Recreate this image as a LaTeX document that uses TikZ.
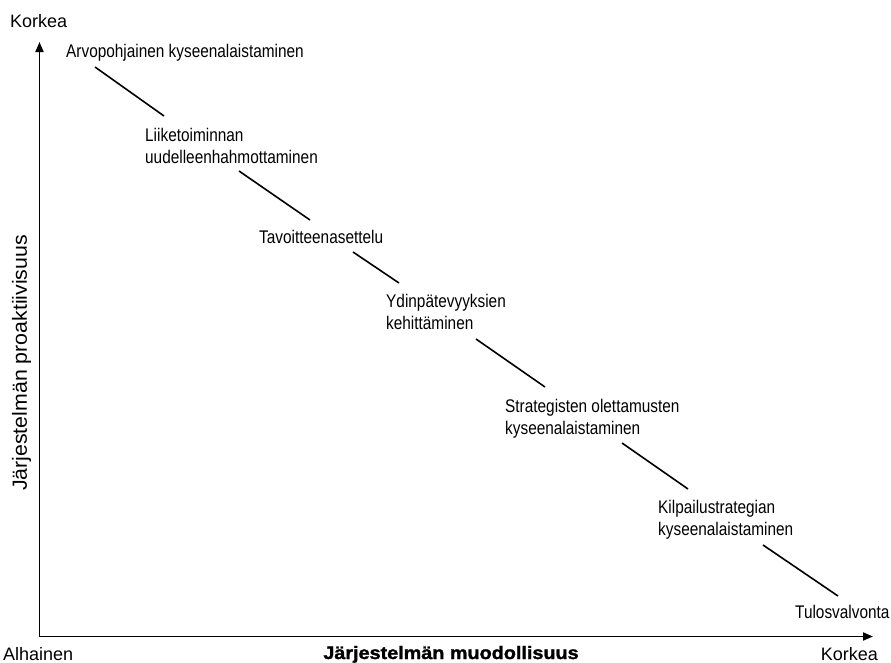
\documentclass[tikz,border=0pt]{standalone}
\usepackage{fontspec}
\setmainfont{Liberation Sans}
\newfontfamily\narrowfont{Liberation Sans}[FakeStretch=0.84]
\newfontfamily\widefont{Liberation Sans}[FakeStretch=1.04]
\newfontfamily\titlefont{Liberation Sans Bold}[FakeStretch=1.1,FakeBold=1.6]
\usetikzlibrary{arrows.meta}
\begin{document}
\begin{tikzpicture}[x=1pt,y=-1pt,
  axis/.style={line width=1.8pt,-{Triangle[length=10pt,width=8pt]}},
  stage/.style={inner sep=0pt,align=left,
    font=\narrowfont\fontsize{18.3}{22}\selectfont},
  axislabel/.style={inner sep=0pt,font=\fontsize{18}{22}\selectfont},
  link/.style={line width=1.6pt}]
\useasboundingbox (0,0) rectangle (891,662);

% axes
\coordinate (origin) at (39.5,636.5);
\coordinate (ytip) at (39.5,42);
\coordinate (xtip) at (873,636.5);
\draw[axis] (origin) -- (ytip);
\draw[axis] (origin) -- (xtip);

% axis labels
\node[axislabel,anchor=base west] (yhigh) at (10,27) {Korkea};
\node[axislabel,anchor=base west] (xlow) at (3,660) {Alhainen};
\node[axislabel,anchor=base east] (xhigh) at (878,660) {Korkea};
\node[inner sep=0pt,anchor=base,font=\titlefont\fontsize{18}{22}\selectfont] (xtitle) at (451,659) {Järjestelmän muodollisuus};
\node[inner sep=0pt,anchor=base,rotate=90,font=\widefont\fontsize{20.5}{24}\selectfont] (ytitle) at (27,363) {Järjestelmän proaktiivisuus};

% stages along the diagonal
\node[stage,anchor=base west] (s1) at (66,57) {Arvopohjainen kyseenalaistaminen};
\node[stage,anchor=west] (s2) at (145,145.5) {Liiketoiminnan\\uudelleenhahmottaminen};
\node[stage,anchor=base west] (s3) at (259,243) {Tavoitteenasettelu};
\node[stage,anchor=west] (s4) at (386,311.5) {Ydinpätevyyksien\\kehittäminen};
\node[stage,anchor=west] (s5) at (505,419) {Strategisten olettamusten\\kyseenalaistaminen};
\node[stage,anchor=west] (s6) at (658,519.5) {Kilpailustrategian\\kyseenalaistaminen};
\node[stage,anchor=base west] (s7) at (795,618) {Tulosvalvonta};

% connecting segments
\coordinate (c1a) at (95,67);   \coordinate (c1b) at (164,116);
\coordinate (c2a) at (239,171); \coordinate (c2b) at (310,220);
\coordinate (c3a) at (353,252); \coordinate (c3b) at (399,283);
\coordinate (c4a) at (476,339); \coordinate (c4b) at (545,387);
\coordinate (c5a) at (622,443); \coordinate (c5b) at (688,489);
\coordinate (c6a) at (763,545); \coordinate (c6b) at (838,596);
\draw[link] (c1a) -- (c1b);
\draw[link] (c2a) -- (c2b);
\draw[link] (c3a) -- (c3b);
\draw[link] (c4a) -- (c4b);
\draw[link] (c5a) -- (c5b);
\draw[link] (c6a) -- (c6b);
\end{tikzpicture}
\end{document}
